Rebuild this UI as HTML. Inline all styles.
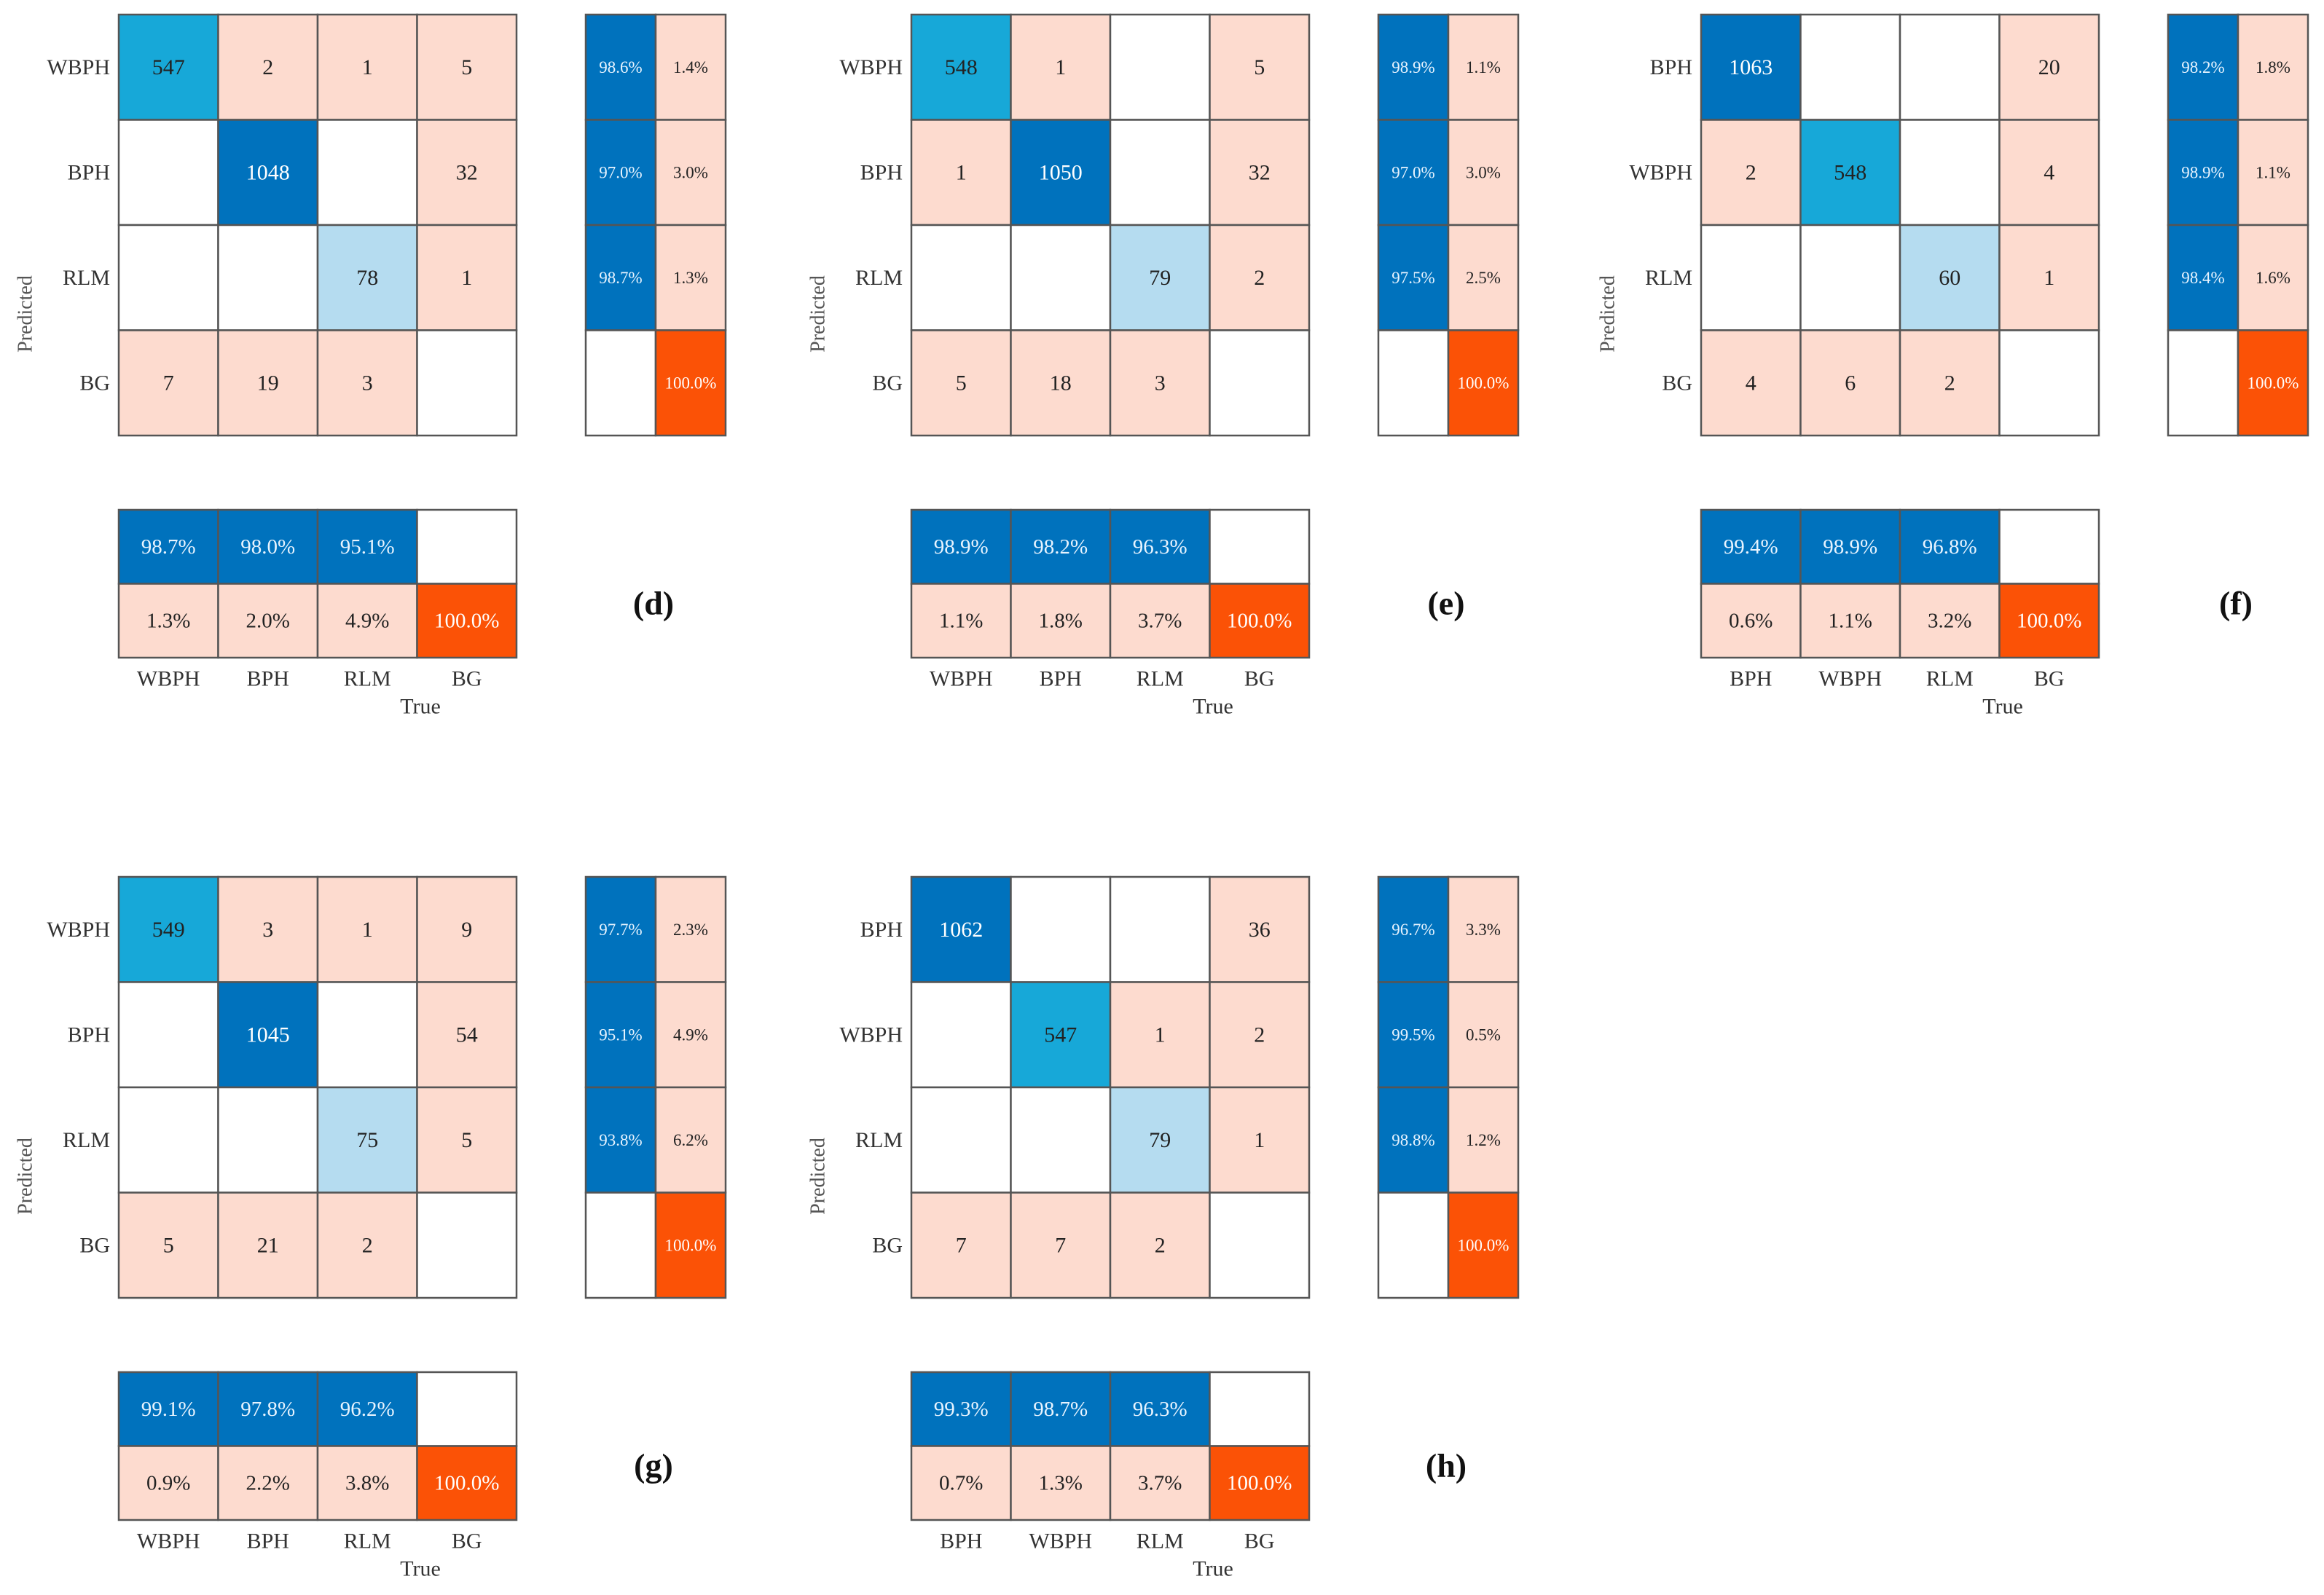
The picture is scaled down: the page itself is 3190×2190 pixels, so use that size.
<!DOCTYPE html>
<html><head><meta charset="utf-8"><style>
html,body{margin:0;padding:0;background:#fff;}
svg{display:block;font-family:"Liberation Serif",serif;}
</style></head><body>
<svg id="chart" width="3190" height="2190" viewBox="0 0 3190 2190" xmlns="http://www.w3.org/2000/svg"></svg>
<script>
const panelNames = ["(d)","(e)","(f)","(g)","(h)"];
const labelsD = ["WBPH","BPH","RLM","BG"];
const labelsE = ["WBPH","BPH","RLM","BG"];
const labelsF = ["BPH","WBPH","RLM","BG"];
const labelsG = ["WBPH","BPH","RLM","BG"];
const labelsH = ["BPH","WBPH","RLM","BG"];
const countsD = [[547,2,1,5],[null,1048,null,32],[null,null,78,1],[7,19,3,null]];
const countsE = [[548,1,null,5],[1,1050,null,32],[null,null,79,2],[5,18,3,null]];
const countsF = [[1063,null,null,20],[2,548,null,4],[null,null,60,1],[4,6,2,null]];
const countsG = [[549,3,1,9],[null,1045,null,54],[null,null,75,5],[5,21,2,null]];
const countsH = [[1062,null,null,36],[null,547,1,2],[null,null,79,1],[7,7,2,null]];
const precD = [98.6,97.0,98.7]; const recD = [98.7,98.0,95.1];
const precE = [98.9,97.0,97.5]; const recE = [98.9,98.2,96.3];
const precF = [98.2,98.9,98.4]; const recF = [99.4,98.9,96.8];
const precG = [97.7,95.1,93.8]; const recG = [99.1,97.8,96.2];
const precH = [96.7,99.5,98.8]; const recH = [99.3,98.7,96.3];
const panelLabels = [labelsD,labelsE,labelsF,labelsG,labelsH];
const panelCounts = [countsD,countsE,countsF,countsG,countsH];
const panelPrec = [precD,precE,precF,precG,precH];
const panelRec = [recD,recE,recF,recG,recH];

const svg = document.getElementById('chart');
const NS = "http://www.w3.org/2000/svg";
const C = {dark:"#0072bd", cyan:"#17a8d8", light:"#b5dcf0", pink:"#fddbcf", orange:"#fb5206", line:"#555"};
function mk(tag, attrs, parent){const e=document.createElementNS(NS,tag);for(const k in attrs)e.setAttribute(k,attrs[k]);(parent||svg).appendChild(e);return e;}
function txt(parent,x,y,s,size,fill,extra){const t=mk('text',Object.assign({x:x,y:y,'font-size':size,fill:fill,'text-anchor':'middle','dominant-baseline':'central'},extra||{}),parent);t.textContent=s;return t;}
function diagColor(v){return v>900?C.dark:(v>300?C.cyan:C.light);}

const origins = [[163,20],[1251,20],[2335,20],[163,1204],[1251,1204]];
const CW=136.5, CH=144.5;
origins.forEach((o,p)=>{
  const [x0,y0]=o;
  const g=mk('g',{});
  
  
  const labels=panelLabels[p], counts=panelCounts[p];
  // main matrix
  for(let r=0;r<4;r++)for(let c=0;c<4;c++){
    const v=counts[r][c];
    let fill="#fff"; if(v!==null) fill = (r===c)?diagColor(v):C.pink;
    const rc=mk('rect',{x:x0+c*CW,y:y0+r*CH,width:CW,height:CH,fill:fill,stroke:C.line,'stroke-width':2.5},g);
    
    
    if(v!==null){
      const t=txt(g,x0+c*CW+CW/2,y0+r*CH+CH/2,String(v),30,fill===C.dark?"#fff":"#222");
      
      
    }
  }
  labels.forEach((l,i)=>{
    const t=txt(g,x0-12,y0+i*CH+CH/2,l,30,"#333",{'text-anchor':'end'});
    
    
    const t2=txt(g,x0+i*CW+CW/2,y0+912,l,30,"#333");
    
    
  });
  const yl=txt(g,0,0,"Predicted",28,"#555",{transform:'translate('+(x0-128)+','+(y0+411)+') rotate(-90)'});
  
  
  const xl=txt(g,x0+414,y0+950,"True",30,"#333");
  
  
  // side (precision)
  const sx=x0+641, SW=96;
  for(let r=0;r<4;r++){
    const a = r<3?panelPrec[p][r]:null;
    const f1 = a===null?"#fff":C.dark, f2 = a===null?C.orange:C.pink;
    const s1=mk('rect',{x:sx,y:y0+r*CH,width:SW,height:CH,fill:f1,stroke:C.line,'stroke-width':2.5},g);
    
    
    const s2=mk('rect',{x:sx+SW,y:y0+r*CH,width:SW,height:CH,fill:f2,stroke:C.line,'stroke-width':2.5},g);
    
    
    if(a!==null){
      const t=txt(g,sx+SW/2,y0+r*CH+CH/2,a.toFixed(1)+"%",23,"#e8f4ff");  
      const t2=txt(g,sx+SW*1.5,y0+r*CH+CH/2,(100-a).toFixed(1)+"%",23,"#222");  
    } else {
      const t=txt(g,sx+SW*1.5,y0+r*CH+CH/2,"100.0%",23,"#fff");  
    }
  }
  // bottom (recall)
  const by=y0+680, BH=101.5;
  for(let c=0;c<4;c++){
    const a = c<3?panelRec[p][c]:null;
    const f1 = a===null?"#fff":C.dark, f2 = a===null?C.orange:C.pink;
    const b1=mk('rect',{x:x0+c*CW,y:by,width:CW,height:BH,fill:f1,stroke:C.line,'stroke-width':2.5},g);
    
    
    const b2=mk('rect',{x:x0+c*CW,y:by+BH,width:CW,height:BH,fill:f2,stroke:C.line,'stroke-width':2.5},g);
    
    
    if(a!==null){
      const t=txt(g,x0+c*CW+CW/2,by+BH/2,a.toFixed(1)+"%",29,"#e8f4ff");  
      const t2=txt(g,x0+c*CW+CW/2,by+BH*1.5,(100-a).toFixed(1)+"%",29,"#222");  
    } else {
      const t=txt(g,x0+c*CW+CW/2,by+BH*1.5,"100.0%",29,"#fff");  
    }
  }
  const pl=txt(g,x0+734,y0+808,panelNames[p],46,"#111",{'font-weight':'bold'});
  
  
});
</script>
</body></html>
